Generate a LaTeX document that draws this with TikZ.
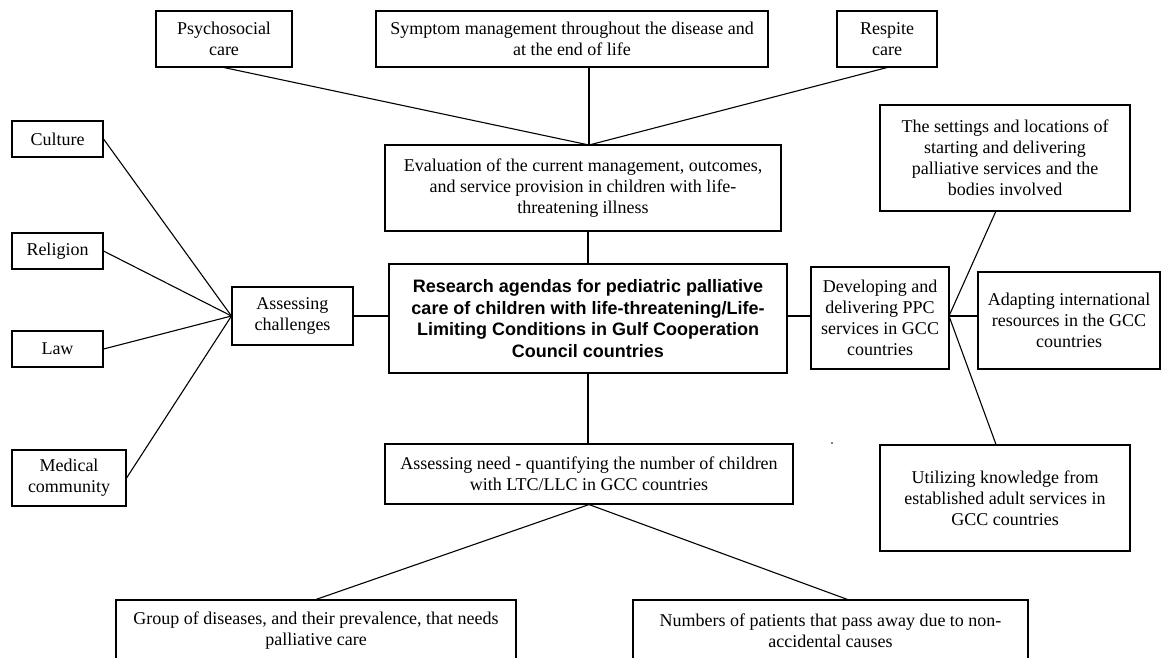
\documentclass[tikz,border=0pt]{standalone}
\usepackage{fontspec}
\setmainfont{Liberation Serif}
\newfontfamily\headfont{Liberation Sans}
\tikzset{
  box/.style={draw, line width=1.1pt, align=center, inner sep=0pt, font=\fontsize{18}{21}\selectfont},
  mainbox/.style={box, line width=2.6pt, font=\headfont\bfseries\fontsize{18}{21.5}\selectfont},
  sz/.style 2 args={minimum width=#1pt, minimum height=#2pt},
  link/.style={line width=1.1pt}
}
\begin{document}
\begin{tikzpicture}[x=1pt,y=-1pt]
\useasboundingbox (0,0) rectangle (1162,657);
\clip (0,0) rectangle (1162,657);
\fill[white] (0,0) rectangle (1162,657);
% top row
\node[box, sz={136}{56}] (psy) at (224,39) {Psychosocial\\care};
\node[box, sz={392}{56}] (sym) at (572,39) {Symptom management throughout the disease and\\at the end of life};
\node[box, sz={100}{56}] (res) at (887,39) {Respite\\care};
\node[box, sz={396}{86}] (eval) at (583,188) {Evaluation of the current management, outcomes,\\and service provision in children with life-\\threatening illness};
% centre
\node[mainbox, sz={398}{109}] (main) at (588,318.5) {Research agendas for pediatric palliative\\care of children with life-threatening/Life-\\Limiting Conditions in Gulf Cooperation\\Council countries};
% left
\node[box, sz={121}{58}] (ach) at (292.5,316) {Assessing\\challenges};
\node[box, sz={91}{36}] (cul) at (57.5,139) {Culture};
\node[box, sz={91}{36}] (rel) at (57.5,251) {Religion};
\node[box, sz={91}{36}] (law) at (57.5,349) {Law};
\node[box, sz={114}{56}] (med) at (69,478) {Medical\\community};
% right
\node[box, sz={138}{102}] (dev) at (880,318) {Developing and\\delivering PPC\\services in GCC\\countries};
\node[box, sz={250}{106}] (set) at (1005,158) {The settings and locations of\\starting and delivering\\palliative services and the\\bodies involved};
\node[box, sz={182}{97}] (ada) at (1069,320.5) {Adapting international\\resources in the GCC\\countries};
\node[box, sz={250}{106}] (uti) at (1005,498) {Utilizing knowledge from\\established adult services in\\GCC countries};
% bottom
\node[box, sz={408}{60}] (need) at (589,474) {Assessing need - quantifying the number of children\\with LTC/LLC in GCC countries};
\node[box, sz={400}{62}] (grp) at (316,631) {Group of diseases, and their prevalence, that needs\\palliative care};
\node[box, sz={395}{62}] (num) at (830.5,631) {Numbers of patients that pass away due to non-\\accidental causes};
% hubs
\coordinate (ehub) at (589,145);
\coordinate (dhub) at (949,316);
\coordinate (numtop) at (849,600);
\coordinate (settop) at (996,211);
% connectors
\draw[link] (psy.south) -- (ehub);
\draw[link] (sym.south -| ehub) -- (ehub);
\draw[link] (res.south) -- (ehub);
\draw[link] (eval.south -| main.north) -- (main.north);
\draw[link] (ach.east) -- (ach.east -| main.west);
\draw[link] (cul.east) -- (ach.west);
\draw[link] (rel.east) -- (ach.west);
\draw[link] (law.east) -- (ach.west);
\draw[link] (med.east) -- (ach.west);
\draw[link] (main.east |- dhub) -- (dev.west |- dhub);
\draw[link] (dhub) -- (settop);
\draw[link] (dhub) -- (ada.west |- dhub);
\draw[link] (dhub) -- (uti.north -| settop);
\draw[link] (main.south) -- (main.south |- need.north);
\draw[link] (need.south) -- (grp.north);
\draw[link] (need.south) -- (numtop);
\fill (832,443) circle (0.9);
\end{tikzpicture}
\end{document}
